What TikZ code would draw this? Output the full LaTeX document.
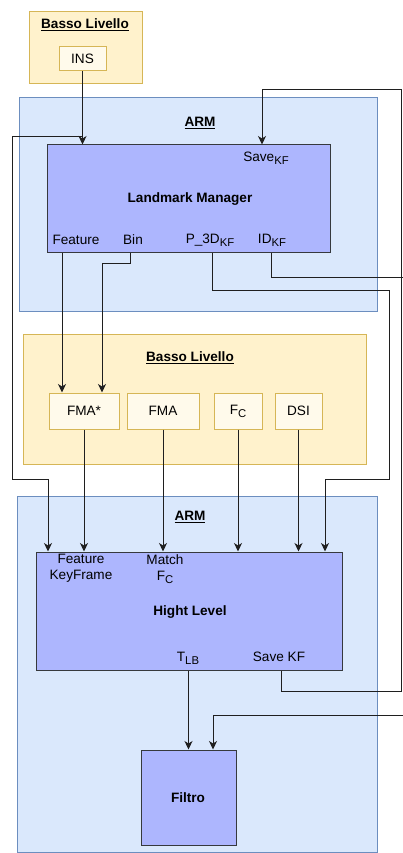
\documentclass[tikz,border=0pt]{standalone}
\usepackage{fontspec}
\setmainfont{Liberation Sans}
\usetikzlibrary{arrows.meta}
\definecolor{armfill}{HTML}{DAE8FC}
\definecolor{armdraw}{HTML}{6C8EBF}
\definecolor{bassofill}{HTML}{FFF2CC}
\definecolor{bassodraw}{HTML}{D6B656}
\definecolor{modfill}{HTML}{FFFAEB}
\definecolor{blkfill}{HTML}{ADB6FE}
\definecolor{blkdraw}{HTML}{36393D}
\definecolor{wirec}{HTML}{1F1F1F}
\newcommand{\mysub}[1]{\raisebox{-0.45ex}{\fontsize{11.3}{13}\selectfont #1}}
\begin{document}
\begin{tikzpicture}[x=1pt,y=-1pt,
  font=\fontsize{13.6}{16}\selectfont,
  armbox/.style={draw=armdraw, fill=armfill, line width=1pt, inner sep=0pt},
  bassobox/.style={draw=bassodraw, fill=bassofill, line width=1pt, inner sep=0pt},
  modbox/.style={draw=bassodraw, fill=modfill, line width=1pt, inner sep=0pt},
  blkbox/.style={draw=blkdraw, fill=blkfill, line width=1pt, inner sep=0pt},
  title/.style={inner sep=0pt, font=\fontsize{13.6}{16}\selectfont\bfseries},
  lbl/.style={inner sep=0pt},
  arr/.style={draw=wirec, line width=1pt, -{Stealth[length=8.5pt,width=8pt,inset=2.5pt]}}
]
\useasboundingbox[fill=white] (0,0) rectangle (403,853);

% containers
\node[bassobox, minimum width=113pt, minimum height=72pt] (basso1) at (85.5,48) {};
\node[armbox, minimum width=358pt, minimum height=213pt] (arm1) at (198,204.5) {};
\node[bassobox, minimum width=343pt, minimum height=130pt] (basso2) at (194.5,399) {};
\node[armbox, minimum width=360pt, minimum height=356pt] (arm2) at (197,674) {};

\node[title] (tb1) at (85,25) {\underline{Basso Livello}};
\node[title] (ta1) at (200,123) {\underline{ARM}};
\node[title] (tb2) at (190,358) {\underline{Basso Livello}};
\node[title] (ta2) at (190,517) {\underline{ARM}};

% guide coordinates
\coordinate (g48) at (48,0);
\coordinate (g62) at (62,0);
\coordinate (g102) at (102,0);
\coordinate (g130) at (130,0);
\coordinate (g212) at (212,0);
\coordinate (g213) at (213,0);
\coordinate (g262) at (262,0);
\coordinate (g271) at (271,0);
\coordinate (g281) at (281,0);
\coordinate (g325) at (325,0);

% blocks
\node[modbox, minimum width=47pt, minimum height=24pt] (ins) at (82.5,59) {INS};
\node[blkbox, minimum width=283pt, minimum height=107pt] (lm) at (188.5,198.5) {};
\node[modbox, minimum width=70pt, minimum height=36pt] (fmas) at (84,411) {FMA*};
\node[modbox, minimum width=72pt, minimum height=36pt] (fma) at (163,411) {FMA};
\node[modbox, minimum width=48pt, minimum height=36pt] (fc) at (238,411) {F\mysub{C}};
\node[modbox, minimum width=47pt, minimum height=36pt] (dsi) at (298.5,411) {DSI};
\node[blkbox, minimum width=306pt, minimum height=118pt] (hl) at (189,611) {};
\node[blkbox, minimum width=95pt, minimum height=95pt] (filt) at (188.5,797.5) {};

% labels in blocks
\node[lbl] (lsave) at (266,158) {Save\mysub{KF}};
\node[title] (llm) at (190,199) {Landmark Manager};
\node[lbl] (lfeat) at (76,240) {Feature};
\node[lbl] (lbin) at (133,240) {Bin};
\node[lbl] (lp3d) at (210,240) {P\_3D\mysub{KF}};
\node[lbl] (lid) at (272,240) {ID\mysub{KF}};
\node[lbl, align=center] (lfkf) at (81,568.5) {Feature\\KeyFrame};
\node[lbl, align=center] (lmfc) at (165,569.5) {Match\\F\mysub{C}};
\node[title] (lhl) at (190,612) {Hight Level};
\node[lbl] (ltlb) at (188,658) {T\mysub{LB}};
\node[lbl] (lskf) at (279,657) {Save KF};
\node[title] (lfil) at (188,798) {Filtro};

% connectors
\draw[arr] (ins.south) -- (ins.south |- lm.north);
\draw[arr] (ins.south) |- (12,137) |- (48,479) -- (g48 |- hl.north);
\draw[arr] (lm.south -| g62) -- (fmas.north -| g62);
\draw[arr] (lm.south -| g130) |- (102,263) -- (fmas.north -| g102);
\draw[arr] (lm.south -| g212) |- (389,290) |- (325,479) -- (hl.north -| g325);
\draw[arr] (lm.south -| g271) |- (406,277) |- (213,715) -- (filt.north -| g213);
\draw[arr] (hl.south -| g281) |- (401,691) |- (262,90) -- (lm.north -| g262);
\draw[arr] (fmas.south) -- (fmas.south |- hl.north);
\draw[arr] (fma.south) -- (fma.south |- hl.north);
\draw[arr] (fc.south) -- (fc.south |- hl.north);
\draw[arr] (dsi.south) -- (dsi.south |- hl.north);
\draw[arr] (hl.south -| filt.north) -- (filt.north);
\end{tikzpicture}
\end{document}
